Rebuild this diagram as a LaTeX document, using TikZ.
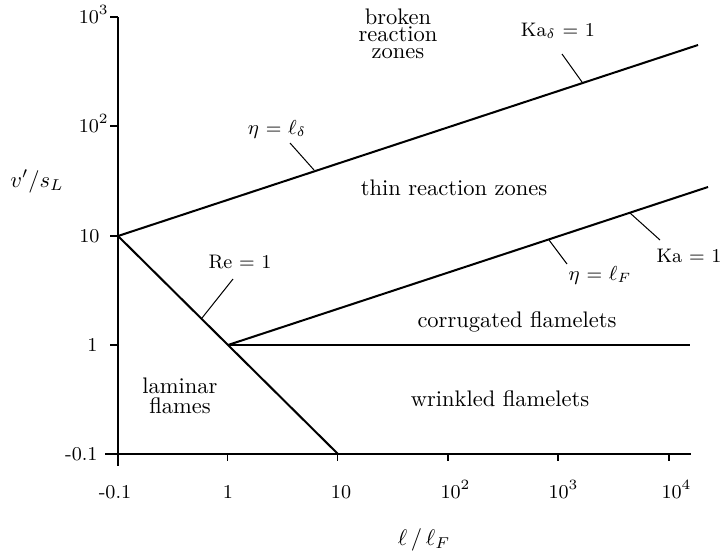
\documentclass[tikz,border=0pt]{standalone}
\newcommand\cstack[2]{\vtop{\baselineskip=#1\lineskiplimit=-\maxdimen\halign{\hfil##\hfil\cr#2\crcr}}}
\newcommand\tpow[1]{10\raisebox{0.42em}{\fontsize{6.3}{6.3}\selectfont #1}}
\begin{document}
\begin{tikzpicture}[x=0.4444pt,y=-0.4444pt,
  axis/.style={line width=0.9pt},
  regime/.style={line width=0.9pt},
  leader/.style={line width=0.45pt},
  tickmark/.style={line width=0.6pt},
  num/.style={font=\fontsize{8.7}{10}\selectfont, inner sep=0pt},
  region/.style={font=\fontsize{10}{12}\selectfont, inner sep=0pt}]
\useasboundingbox (0,0) rectangle (721,551);

% axes
\coordinate (ytop) at (118,17);
\coordinate (ybot) at (118,466);
\coordinate (xl) at (105,454);
\coordinate (xr) at (691,454);
\draw[axis] (ytop) -- (ybot);
\draw[axis] (xl) -- (xr);

% ticks
\foreach \y in {17,126,236,345} \draw[tickmark] (110,\y) -- (118,\y);
\foreach \x in {227.5,337.5,448,558,669} \draw[tickmark] (\x,454) -- (\x,461);

% y tick labels
\node[num,anchor=base east] (y3) at (108,23) {\tpow{3}};
\node[num,anchor=base east] (y2) at (108,132) {\tpow{2}};
\node[num,anchor=base east] (y1) at (100,242) {10};
\node[num,anchor=base east] (y0) at (98,351) {1};
\node[num,anchor=base east] (ym) at (98,460) {-0.1};

% x tick labels
\node[num,anchor=base] (xm) at (115,498) {-0.1};
\node[num,anchor=base] (x0) at (228,498) {1};
\node[num,anchor=base] (x1) at (341,498) {10};
\node[num,anchor=base] (x2) at (455,498) {\tpow{2}};
\node[num,anchor=base] (x3) at (563,498) {\tpow{3}};
\node[num,anchor=base] (x4) at (676,498) {\tpow{4}};

% axis labels
\node[region,anchor=base] (ylab) at (37,187) {$v'/s_L$};
\node[region,anchor=base] (xlab) at (424,545) {$\ell\,/\,\ell_F$};

% regime boundaries
\coordinate (P10) at (118,236);
\coordinate (P1) at (228,345);
\coordinate (Pre) at (338,454);
\coordinate (Aend) at (698,45);
\coordinate (Bend) at (708,187);
\coordinate (Hend) at (690,345);
\draw[regime] (P10) -- (Aend);
\draw[regime] (P10) -- (Pre);
\draw[regime] (P1) -- (Bend);
\draw[regime] (P1) -- (Hend);

% region labels
\node[region,anchor=base] (broken) at (398,24) {\cstack{7.7pt}{broken\cr reaction\cr zones}};
\node[region,anchor=base] (thin) at (454,195) {thin reaction zones};
\node[region,anchor=base] (corr) at (517,327) {corrugated flamelets};
\node[region,anchor=base] (wrin) at (500,406) {wrinkled flamelets};
\node[region,anchor=base] (lam) at (180,393) {\cstack{8.9pt}{laminar\cr flames}};

% line labels
\node[num,anchor=base] (re) at (240,268) {Re = 1};
\node[num,anchor=base] (etad) at (277,134) {$\eta$ = $\ell_{\delta}$};
\node[num,anchor=base] (kad) at (558,36) {Ka$_{\delta}$ = 1};
\node[num,anchor=base] (etaf) at (600,280) {$\eta$ = $\ell_F$};
\node[num,anchor=base] (ka) at (689,262) {Ka = 1};

% leaders
\coordinate (re1) at (233,279);  \coordinate (re2) at (202,318);
\coordinate (ed1) at (290,143);  \coordinate (ed2) at (314,170);
\coordinate (kd1) at (562,54);   \coordinate (kd2) at (582,82);
\coordinate (ef1) at (567,264);  \coordinate (ef2) at (549,240);
\coordinate (ka1) at (660,240);  \coordinate (ka2) at (630,213);
\draw[leader] (re1) -- (re2);
\draw[leader] (ed1) -- (ed2);
\draw[leader] (kd1) -- (kd2);
\draw[leader] (ef1) -- (ef2);
\draw[leader] (ka1) -- (ka2);
\end{tikzpicture}
\end{document}
